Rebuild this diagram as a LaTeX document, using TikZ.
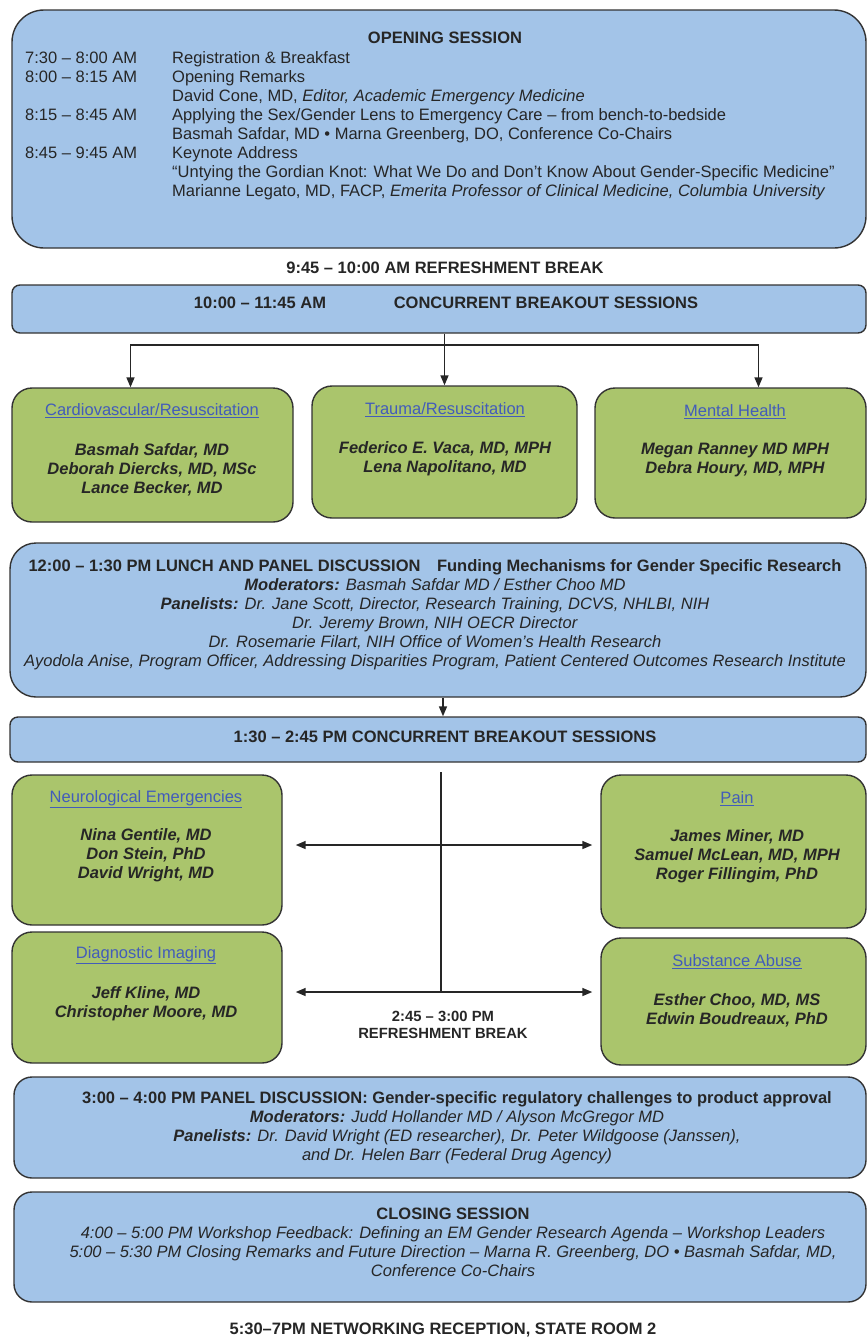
\documentclass[tikz,border=0pt]{standalone}
\usepackage{fontspec}
\setmainfont{Liberation Sans}
\usetikzlibrary{arrows.meta}
\definecolor{sessionblue}{RGB}{163,196,232}
\definecolor{trackgreen}{RGB}{170,197,108}
\definecolor{tracktitle}{RGB}{66,92,186}

\begin{document}
\begin{tikzpicture}[
  x = 1pt, y = -1pt,
  every node/.style = {font = \fontsize{16.5}{19}\selectfont, inner sep = 0pt, text = black!85},
  session/.style = {draw = black!80, line width = 1.4pt, fill = sessionblue, rounded corners = #1},
  session/.default = 18pt,
  track/.style = {draw = black!80, line width = 1.4pt, fill = trackgreen, rounded corners = 20pt},
  heading/.style = {font = \fontsize{16.5}{19}\selectfont\bfseries},
  trackname/.style = {text = tracktitle},
  people/.style = {align = center, font = \fontsize{16.5}{19}\selectfont\bfseries\itshape},
  link/.style = {draw = black!85, line width = 1.6pt},
  arr/.style = {link, -{Triangle[length = 10pt, width = 8pt]}},
  dbl/.style = {link, {Triangle[length = 10pt, width = 8pt]}-{Triangle[length = 10pt, width = 8pt]}},
  ]
  \useasboundingbox (0,0) rectangle (867,1339);

  \node[session = 32pt, minimum width = 854pt, minimum height = 238pt] (opening) at (439,129) {};
  \node[heading] (openingtitle) at (445,38) {OPENING SESSION};
  \node[anchor = north west] (agenda) at (25,49.5) {%
    \begin{tabular}{@{}p{147pt}@{}l@{}}
      7:30 – 8:00 AM & Registration \& Breakfast\\
      8:00 – 8:15 AM & Opening Remarks\\
                     & David Cone, MD, \textit{Editor, Academic Emergency Medicine}\\
      8:15 – 8:45 AM & Applying the Sex/Gender Lens to Emergency Care – from bench-to-bedside\\
                     & Basmah Safdar, MD • Marna Greenberg, DO, Conference Co-Chairs\\
      8:45 – 9:45 AM & Keynote Address\\
                     & “Untying the Gordian Knot: What We Do and Don’t Know About Gender-Specific Medicine”\\
                     & Marianne Legato, MD, FACP, \textit{Emerita Professor of Clinical Medicine, Columbia University}
    \end{tabular}};

  \node[heading] (break1) at (445,268) {9:45 – 10:00 AM REFRESHMENT BREAK};

  \node[session = 8pt, minimum width = 854pt, minimum height = 48pt] (conc) at (439,309) {};
  \node[heading] (conctime) at (260,303) {10:00 – 11:45 AM};
  \node[heading] (conctitle) at (546,303) {CONCURRENT BREAKOUT SESSIONS};

  \node[track, minimum width = 281pt, minimum height = 134pt] (cardio) at (152.5,455) {};
  \node[track, minimum width = 265pt, minimum height = 132pt] (trauma) at (444.5,452) {};
  \node[track, minimum width = 271pt, minimum height = 130pt] (mental) at (730.5,453) {};
  \node[trackname] (cardiotitle) at (152,411) {\underline{Cardiovascular/Resuscitation}};
  \node[trackname] (traumatitle) at (445,410) {\underline{Trauma/Resuscitation}};
  \node[trackname] (mentaltitle) at (735,412) {\underline{Mental Health}};
  \node[people] (cardiopeople) at (152,470) {Basmah Safdar, MD\\Deborah Diercks, MD, MSc\\Lance Becker, MD};
  \node[people] (traumapeople) at (445,459) {Federico E. Vaca, MD, MPH\\Lena Napolitano, MD};
  \node[people] (mentalpeople) at (735,460) {Megan Ranney MD MPH\\Debra Houry, MD, MPH};

  \coordinate (split) at (443,345);
  \draw[arr] (conc.south -| trauma.north) -- (trauma.north);
  \draw[arr] (split) -| ([xshift = -22pt]cardio.north);
  \draw[arr] (split) -| ([xshift = 28pt]mental.north);

  \node[session = 26pt, minimum width = 856pt, minimum height = 154pt] (lunch) at (438,620) {};
  \node[align = center] (lunchtext) at (435,615) {%
    \textbf{12:00 – 1:30 PM LUNCH AND PANEL DISCUSSION\quad Funding Mechanisms for Gender Specific Research}\\
    \textbf{\textit{Moderators:}} \textit{Basmah Safdar MD / Esther Choo MD}\\
    \textbf{\textit{Panelists:}} \textit{Dr. Jane Scott, Director, Research Training, DCVS, NHLBI, NIH}\\
    \textit{Dr. Jeremy Brown, NIH OECR Director}\\
    \textit{Dr. Rosemarie Filart, NIH Office of Women’s Health Research}\\
    \textit{Ayodola Anise, Program Officer, Addressing Disparities Program, Patient Centered Outcomes Research Institute}};

  \node[session = 8pt, minimum width = 856pt, minimum height = 45pt] (brk) at (438,739.5) {};
  \node[heading] (brktitle) at (445,737) {1:30 – 2:45 PM CONCURRENT BREAKOUT SESSIONS};
  \draw[arr] (lunch.south -| 443,0) -- (brk.north -| 443,0);

  \node[track, minimum width = 270pt, minimum height = 150pt] (neuro) at (147,850) {};
  \node[track, minimum width = 265pt, minimum height = 153pt] (pain) at (733.5,851.5) {};
  \node[track, minimum width = 270pt, minimum height = 131pt] (diag) at (147,997.5) {};
  \node[track, minimum width = 265pt, minimum height = 127pt] (subs) at (733.5,1001.5) {};
  \node[trackname] (neurotitle) at (146,799) {\underline{Neurological Emergencies}};
  \node[trackname] (paintitle) at (737,799) {\underline{Pain}};
  \node[trackname] (diagtitle) at (146,955) {\underline{Diagnostic Imaging}};
  \node[trackname] (substitle) at (737,962) {\underline{Substance Abuse}};
  \node[people] (neuropeople) at (146,855) {Nina Gentile, MD\\Don Stein, PhD\\David Wright, MD};
  \node[people] (painpeople) at (737,856) {James Miner, MD\\Samuel McLean, MD, MPH\\Roger Fillingim, PhD};
  \node[people] (diagpeople) at (146,1004) {Jeff Kline, MD\\Christopher Moore, MD};
  \node[people] (subspeople) at (737,1010) {Esther Choo, MD, MS\\Edwin Boudreaux, PhD};

  \coordinate (stemtop) at (441,772);
  \coordinate (stembottom) at (441,992);
  \draw[link, line width = 1.3pt] (stemtop) -- (stembottom);
  \draw[dbl] ([xshift = 13pt, yshift = 5pt]neuro.east) -- ([xshift = -8pt, yshift = 5pt]neuro.east -| pain.west);
  \draw[dbl] ([xshift = 13pt, yshift = 5.5pt]diag.east) -- ([xshift = -8pt, yshift = 5.5pt]diag.east -| subs.west);
  \node[heading, align = center, font = \fontsize{14.8}{17}\selectfont\bfseries] (break2) at (443,1025) {2:45 – 3:00 PM\\REFRESHMENT BREAK};

  \node[session, minimum width = 852pt, minimum height = 101pt] (panel) at (440,1127.5) {};
  \node[align = center] (paneltext) at (457,1128) {%
    \textbf{3:00 – 4:00 PM PANEL DISCUSSION: Gender-specific regulatory challenges to product approval}\\
    \textbf{\textit{Moderators:}} \textit{Judd Hollander MD / Alyson McGregor MD}\\
    \textbf{\textit{Panelists:}} \textit{Dr. David Wright (ED researcher), Dr. Peter Wildgoose (Janssen),}\\
    \textit{and Dr. Helen Barr (Federal Drug Agency)}};

  \node[session, minimum width = 852pt, minimum height = 110pt] (closing) at (440,1247) {};
  \node[align = center] (closingtext) at (453,1242) {%
    \textbf{CLOSING SESSION}\\
    \textit{4:00 – 5:00 PM Workshop Feedback: Defining an EM Gender Research Agenda – Workshop Leaders}\\
    \textit{5:00 – 5:30 PM Closing Remarks and Future Direction – Marna R. Greenberg, DO • Basmah Safdar, MD,}\\
    \textit{Conference Co-Chairs}};

  \node[heading] (reception) at (443,1330) {5:30–7PM NETWORKING RECEPTION, STATE ROOM 2};
\end{tikzpicture}
\end{document}
